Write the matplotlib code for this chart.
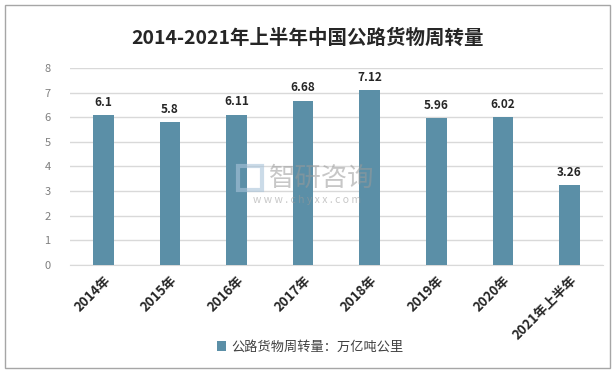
import matplotlib.pyplot as plt
import matplotlib.patches as mpatches
import numpy as np

plt.rcParams['font.family'] = ['Noto Sans CJK SC', 'DejaVu Sans']

years = ["2014年", "2015年", "2016年", "2017年", "2018年", "2019年", "2020年", "2021年上半年"]
volume = [6.1, 5.8, 6.11, 6.68, 7.12, 5.96, 6.02, 3.26]
labels = ["6.1", "5.8", "6.11", "6.68", "7.12", "5.96", "6.02", "3.26"]

bar_color = "#5B8FA7"

fig = plt.figure(figsize=(6.15, 3.72), dpi=100)
fig.patches.append(mpatches.Rectangle((5 / 615, 4 / 372), 605 / 615, 363 / 372,
                                      transform=fig.transFigure, fill=False,
                                      edgecolor="#A6A6A6", linewidth=1))
ax = fig.add_axes([0.114, 0.288, 0.866, 0.529])

x = np.arange(len(years))
ax.bar(x, volume, width=0.31, color=bar_color, zorder=3, label="公路货物周转量：万亿吨公里")
for xi, v, t in zip(x, volume, labels):
    ax.text(xi, v + 0.25, t, ha="center", va="bottom", fontsize=8.5,
            fontweight="bold", color="#262626")

ax.set_xlim(-0.5, len(years) - 0.5)
ax.set_ylim(0, 8)
ax.set_yticks(range(0, 9))
ax.grid(axis="y", color="#D9D9D9", linewidth=1, zorder=0)
for s in ["top", "right", "left"]:
    ax.spines[s].set_visible(False)
ax.spines["bottom"].set_color("#D9D9D9")
ax.tick_params(axis="both", length=0)
ax.tick_params(axis="y", labelsize=8, labelcolor="#7F7F7F", pad=14)
ax.set_xticks(x)
ax.set_xticklabels(years, rotation=45, ha="right", rotation_mode="anchor",
                   fontsize=9.5, fontweight="bold", color="#262626")
ax.tick_params(axis="x", pad=6)

fig.text(0.5, 0.897, "2014-2021年上半年中国公路货物周转量", ha="center", va="center",
         fontsize=14, fontweight="bold", color="#262626")

# watermark
fig.patches.append(mpatches.Rectangle((238 / 615, 1 - 190 / 372), 24 / 615, 24 / 372,
                                      transform=fig.transFigure, fill=False,
                                      edgecolor="#A9C4DA", linewidth=3, alpha=0.6, zorder=5))
fig.text(322 / 615, 1 - 178 / 372, "智研咨询", ha="center", va="center", fontsize=19,
         color="#9A9A9A", alpha=0.55, zorder=5)
fig.text(307 / 615, 1 - 200 / 372, "w w w . c h y x x . c o m", ha="center", va="center",
         fontsize=7.5, color="#9A9A9A", alpha=0.55, zorder=5)

leg = fig.legend(loc="center", bbox_to_anchor=(0.505, 0.067), frameon=False,
                 fontsize=9.5, handlelength=0.7, handleheight=0.7, handletextpad=0.4)
for t in leg.get_texts():
    t.set_color("#404040")

fig.savefig("out.png", dpi=100)
